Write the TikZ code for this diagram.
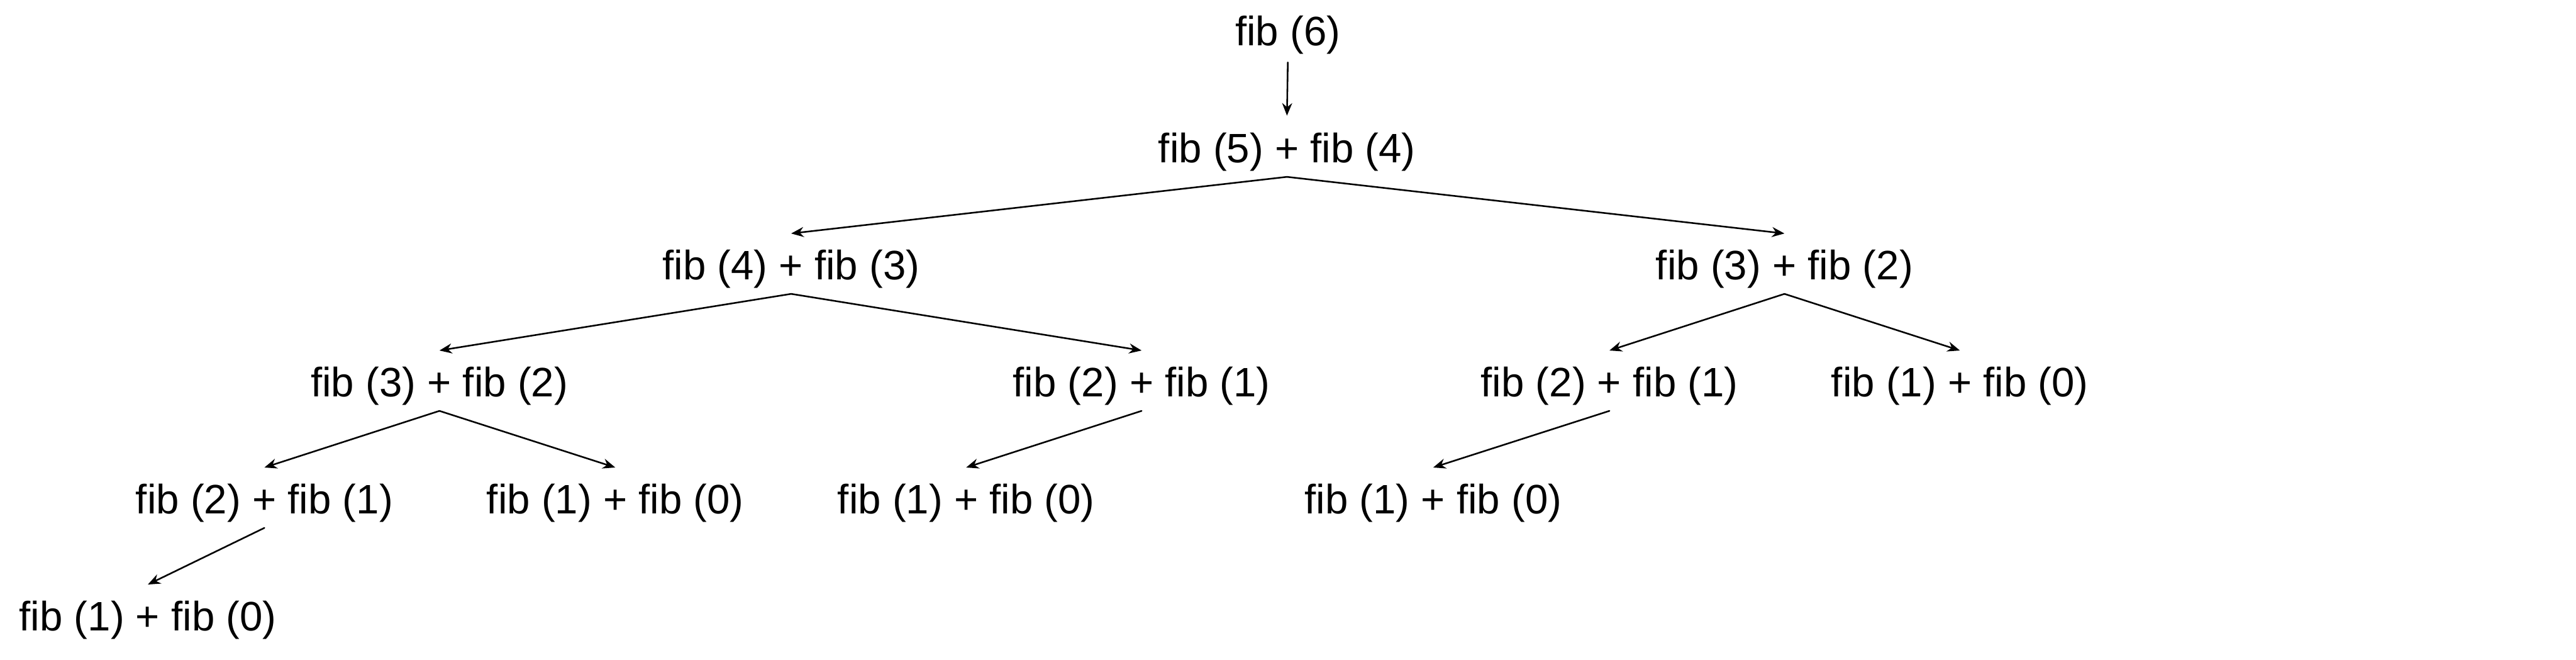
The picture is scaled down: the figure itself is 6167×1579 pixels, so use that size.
\documentclass[tikz,border=0pt]{standalone}
\usepackage{fontspec}
\setmainfont{Liberation Sans}
\usetikzlibrary{arrows.meta}
\begin{document}
\begin{tikzpicture}[x=0.01cm,y=-0.01cm,
  lbl/.style={font=\fontsize{28}{34}\selectfont, inner sep=0pt, outer sep=0pt,
              text height=20.4pt, text depth=5.9pt, anchor=center},
  arr/.style={line width=1.1pt, line cap=round, -{Stealth[length=3mm,width=2.4mm]}}]
\useasboundingbox (0,0) rectangle (6167,1579);
\fill[white] (0,0) rectangle (6167,1579);

\node[lbl] (n0)  at (3083,83)   {fib (6)};
\node[lbl] (n1)  at (3081,364)  {fib (5) + fib (4)};
\node[lbl] (n2a) at (1894,644)  {fib (4) + fib (3)};
\node[lbl] (n2b) at (4272,644)  {fib (3) + fib (2)};
\node[lbl] (n3a) at (1052,924)  {fib (3) + fib (2)};
\node[lbl] (n3b) at (2733,924)  {fib (2) + fib (1)};
\node[lbl] (n3c) at (3853,924)  {fib (2) + fib (1)};
\node[lbl] (n3d) at (4692,924)  {fib (1) + fib (0)};
\node[lbl] (n4a) at (633,1204)  {fib (2) + fib (1)};
\node[lbl] (n4b) at (1473,1204) {fib (1) + fib (0)};
\node[lbl] (n4c) at (2313,1204) {fib (1) + fib (0)};
\node[lbl] (n4d) at (3431,1204) {fib (1) + fib (0)};
\node[lbl] (n5a) at (354,1484)  {fib (1) + fib (0)};

\draw[arr] ([yshift=-0.2cm]n0.south) -- ([yshift=0.41cm]n1.north);
\draw[arr] ([yshift=-0.13cm]n1.south) -- ([yshift=0.39cm]n2a.north);
\draw[arr] ([yshift=-0.13cm]n1.south) -- ([yshift=0.39cm]n2b.north);
\draw[arr] ([yshift=-0.13cm]n2a.south) -- ([yshift=0.39cm]n3a.north);
\draw[arr] ([yshift=-0.13cm]n2a.south) -- ([yshift=0.39cm]n3b.north);
\draw[arr] ([yshift=-0.13cm]n2b.south) -- ([yshift=0.39cm]n3c.north);
\draw[arr] ([yshift=-0.13cm]n2b.south) -- ([yshift=0.39cm]n3d.north);
\draw[arr] ([yshift=-0.13cm]n3a.south) -- ([yshift=0.39cm]n4a.north);
\draw[arr] ([yshift=-0.13cm]n3a.south) -- ([yshift=0.39cm]n4b.north);
\draw[arr] ([yshift=-0.13cm]n3b.south) -- ([yshift=0.39cm]n4c.north);
\draw[arr] ([yshift=-0.13cm]n3c.south) -- ([yshift=0.39cm]n4d.north);
\draw[arr] ([yshift=-0.13cm]n4a.south) -- ([yshift=0.39cm]n5a.north);
\end{tikzpicture}
\end{document}
